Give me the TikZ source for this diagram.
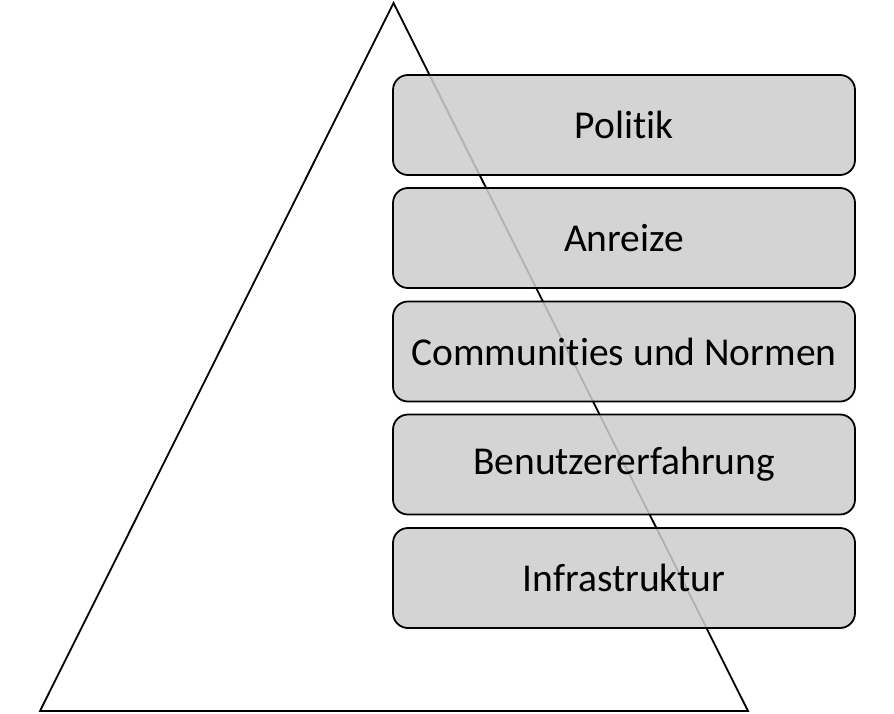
\documentclass[tikz,border=0pt]{standalone}
\usepackage{fontspec}
\setmainfont[Ligatures={NoCommon}]{Carlito}
\begin{document}
\begin{tikzpicture}[x=1pt,y=-1pt,
  layerbox/.style={draw=black,line width=1.8pt,fill={rgb,255:red,205;green,205;blue,205},fill opacity=0.86,text opacity=1,rounded corners=15pt,minimum width=462pt,minimum height=100pt,inner sep=0pt,font=\fontsize{39.5}{46}\selectfont}]
\useasboundingbox (0,0) rectangle (894,713);
\coordinate (apex) at (393.5,3);
\coordinate (bl) at (40,711);
\coordinate (br) at (748,711);
\draw[line width=1.8pt,line join=miter] (apex) -- (bl) -- (br) -- cycle;
\node[layerbox] (p) at (624,125) {Politik};
\node[layerbox] (a) at (624,238) {Anreize};
\node[layerbox] (c) at (624,351.5) {Communities und Normen};
\node[layerbox] (b) at (624,464.5) {Benutzererfahrung};
\node[layerbox] (i) at (624,578) {Infrastruktur};
\end{tikzpicture}
\end{document}
